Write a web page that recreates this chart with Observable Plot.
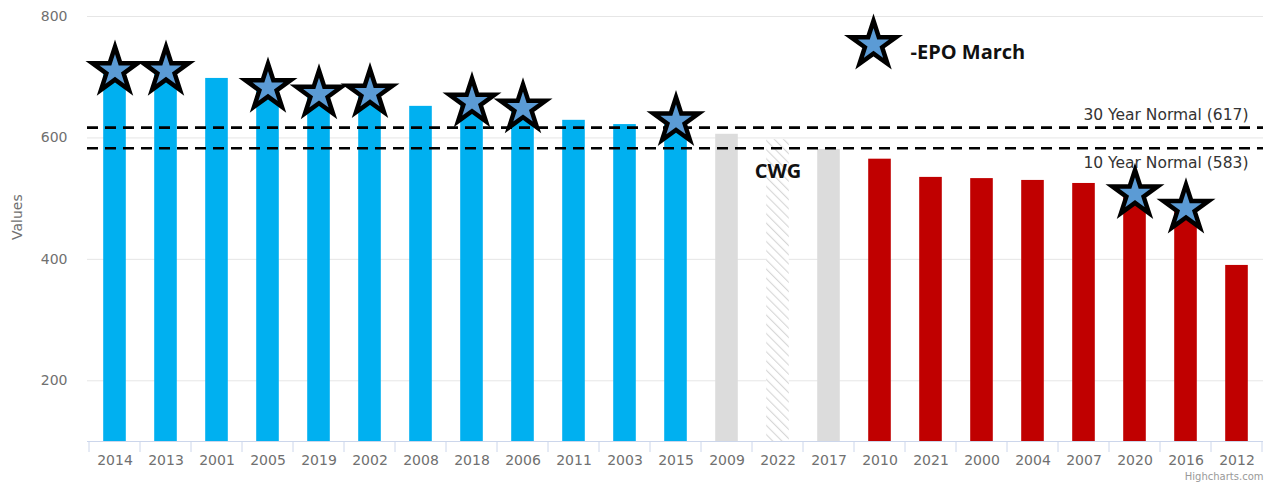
<!DOCTYPE html>
<html>
<head>
<meta charset="utf-8">
<script src="https://cdn.jsdelivr.net/npm/d3@7"></script>
<script src="https://cdn.jsdelivr.net/npm/@observablehq/plot@0.6"></script>
<style>
  html, body { margin: 0; padding: 0; background: white; }
</style>
</head>
<body>
<div id="chart"></div>
<script>
// ---- data ----
const years = ["2014","2013","2001","2005","2019","2002","2008","2018","2006","2011","2003","2015","2009","2022","2017","2010","2021","2000","2004","2007","2020","2016","2012"];
const values = [711,711,698,683,672,674,652,659,649,629,622,628,606,597,581,565,535,533,530,525,508,484,390];
const groups = ["above","above","above","above","above","above","above","above","above","above","above","above","gray","cwg","gray","below","below","below","below","below","below","below","below"];
const epoYears = ["2014","2013","2005","2019","2002","2018","2006","2015","2020","2016"];
const normalValues = [617, 583];
const normalLabels = ["30 Year Normal (617)", "10 Year Normal (583)"];
const yTicks = [200, 400, 600, 800];
const yDomain = [100, 800];
const annotations = [{year: "2022", value: 545, label: "CWG"}];
const legendLabel = "-EPO March";

const bars = years.map((y, i) => ({year: y, value: values[i], group: groups[i]}));
const epoRows = bars.filter(d => epoYears.includes(d.year));
const floor = yDomain[0];
const inset = 14.2;

const colors = {above: "#00b0f0", gray: "#dcdcdc", cwg: "url(#hatch)", below: "#c00000"};
const starStyle = {symbol: "star", r: 14.2, fill: "#5b9bd5", stroke: "black", strokeWidth: 4.5, strokeLinejoin: "miter"};

const svg = Plot.plot({
  width: 1271,
  height: 485,
  marginLeft: 87,
  marginRight: 8,
  marginTop: 16,
  marginBottom: 44,
  style: {fontFamily: "DejaVu Sans", fontSize: "14px", color: "#707070", background: "white"},
  x: {domain: years, padding: 0, label: null, tickSize: 0, tickPadding: 14},
  y: {domain: yDomain, ticks: yTicks, label: null, tickSize: 0, tickPadding: 20},
  marks: [
    Plot.gridY(yTicks, {stroke: "#e6e6e6", strokeOpacity: 1}),
    ...Object.keys(colors).map(g =>
      Plot.barY(bars.filter(d => d.group === g), {
        x: "year", y1: floor, y2: "value", fill: colors[g],
        insetLeft: inset, insetRight: inset
      })
    ),
    Plot.ruleY([floor], {stroke: "#ccd6eb", strokeWidth: 1}),
    Plot.ruleY(normalValues, {stroke: "black", strokeWidth: 2.6, strokeDasharray: "11,7"}),
    Plot.text([normalLabels[0]], {y: normalValues[0], text: d => d, frameAnchor: "right", textAnchor: "end", dx: -15, dy: -13, fill: "#333", fontSize: 15.5}),
    Plot.text([normalLabels[1]], {y: normalValues[1], text: d => d, frameAnchor: "right", textAnchor: "end", dx: -15, dy: 15, fill: "#333", fontSize: 15.5}),
    Plot.text(annotations, {x: "year", y: "value", text: "label", fill: "#111", fontSize: 20, fontWeight: "bold", fontFamily: "Open Sans"}),
    Plot.dot(epoRows, {x: "year", y: "value", ...starStyle}),
    Plot.dot([legendLabel], {frameAnchor: "top-left", dx: 786, dy: 28, ...starStyle}),
    Plot.text([legendLabel], {frameAnchor: "top-left", dx: 823, dy: 28, text: d => d, textAnchor: "start", fill: "#111", fontSize: 20, fontWeight: "bold", fontFamily: "Open Sans"}),
    Plot.text(["Values"], {frameAnchor: "left", dx: -70, dy: 11, rotate: -90, text: d => d, fill: "#707070", fontSize: 14}),
    Plot.text(["Highcharts.com"], {frameAnchor: "bottom-right", dy: 38, textAnchor: "end", text: d => d, fill: "#999", fontSize: 10})
  ]
});

// hatch pattern for the CWG bar
const sel = d3.select(svg);
const defs = sel.insert("defs", ":first-child");
const pat = defs.append("pattern")
  .attr("id", "hatch")
  .attr("patternUnits", "userSpaceOnUse")
  .attr("width", 6.5).attr("height", 6.5)
  .attr("patternTransform", "rotate(-45)");
pat.append("rect").attr("width", 6.5).attr("height", 6.5).attr("fill", "white");
pat.append("line").attr("x1", 0).attr("y1", 0).attr("x2", 0).attr("y2", 6.5)
  .attr("stroke", "#d6d6d6").attr("stroke-width", 2.2);

// category boundary ticks on the x axis (from Plot's x scale)
const xs = svg.scale("x");
const ys = svg.scale("y");
const y0 = ys.apply(floor);
const bounds = years.map(y => xs.apply(y)).concat([xs.apply(years[years.length - 1]) + xs.bandwidth]);
const tg = sel.append("g").attr("stroke", "#ccd6eb").attr("stroke-width", 1);
bounds.forEach(b => {
  tg.append("line").attr("x1", b).attr("x2", b).attr("y1", y0).attr("y2", y0 + 11);
});

document.getElementById("chart").appendChild(svg);
</script>
</body>
</html>
